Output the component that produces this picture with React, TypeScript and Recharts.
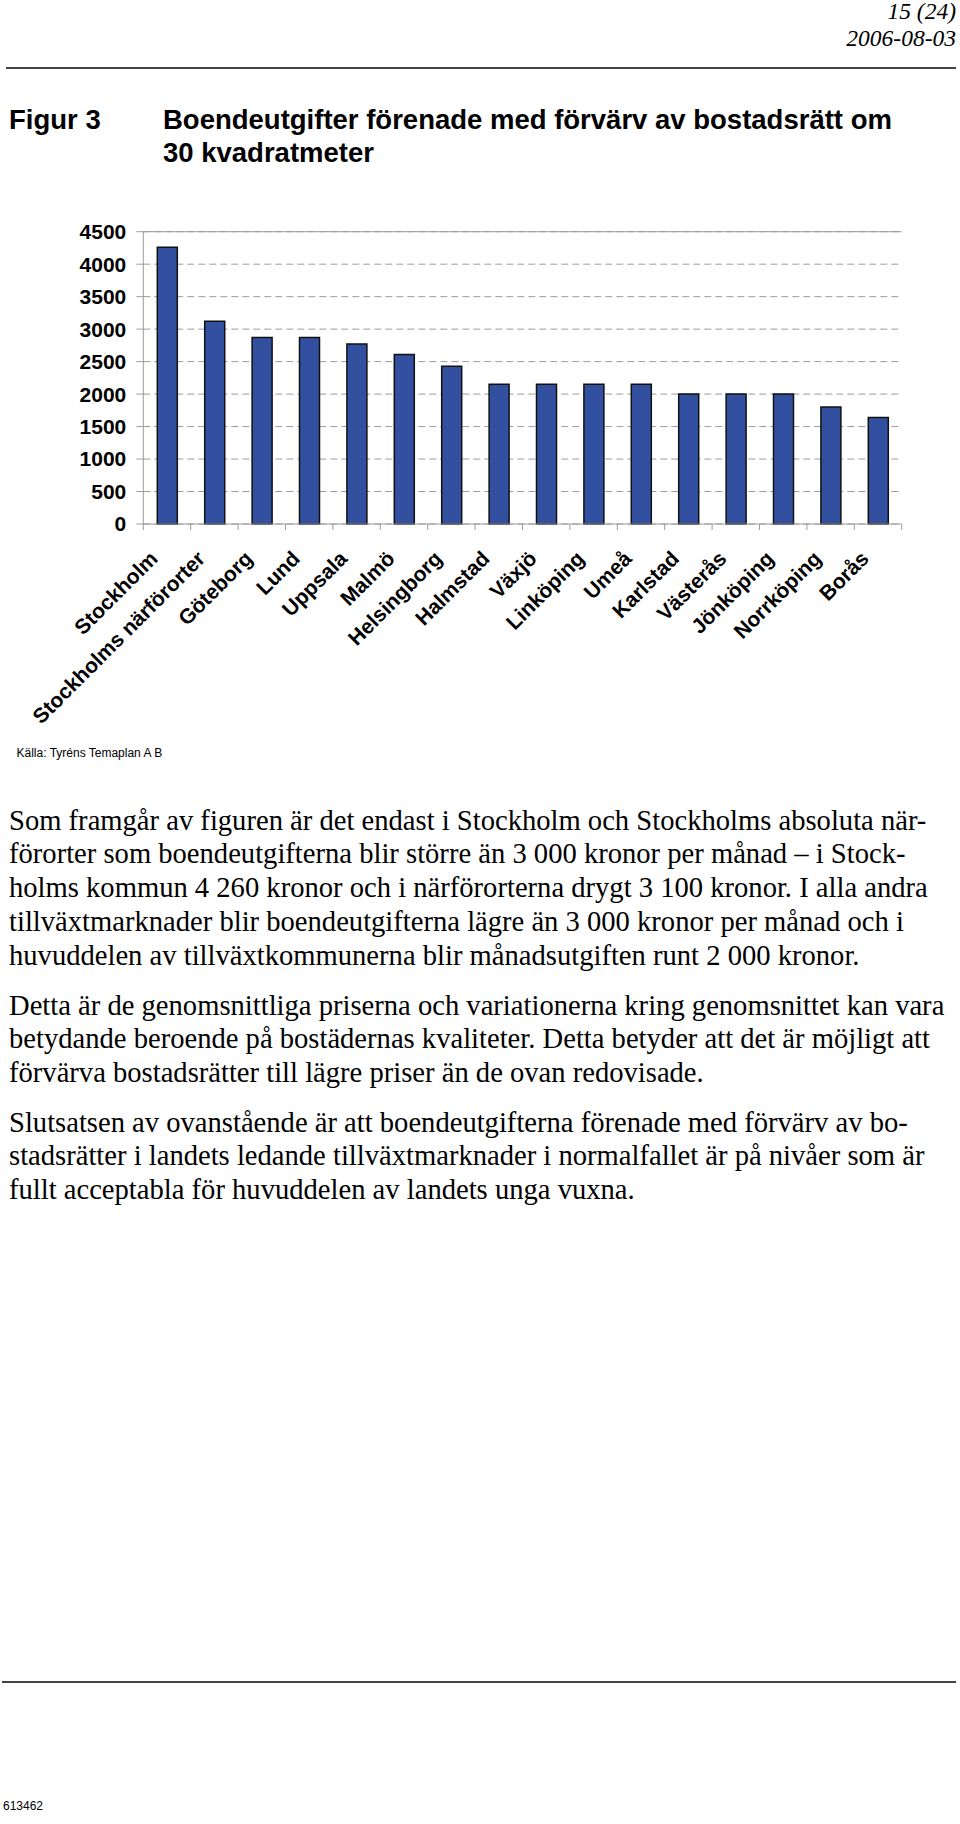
import React from 'react';
import { Bar, BarChart, CartesianGrid, ReferenceLine, XAxis, YAxis } from 'recharts';

const cities = [
  'Stockholm',
  'Stockholms närförorter',
  'Göteborg',
  'Lund',
  'Uppsala',
  'Malmö',
  'Helsingborg',
  'Halmstad',
  'Växjö',
  'Linköping',
  'Umeå',
  'Karlstad',
  'Västerås',
  'Jönköping',
  'Norrköping',
  'Borås',
];

// monthly cost, kronor
const costs = [4260, 3120, 2870, 2870, 2770, 2610, 2430, 2150, 2150, 2150, 2150, 2000, 2000, 2000, 1800, 1640];

const yTicks = [0, 500, 1000, 1500, 2000, 2500, 3000, 3500, 4000, 4500];

const paragraphs = [
  [
    'Som framgår av figuren är det endast i Stockholm och Stockholms absoluta när-',
    'förorter som boendeutgifterna blir större än 3 000 kronor per månad – i Stock-',
    'holms kommun 4 260 kronor och i närförorterna drygt 3 100 kronor. I alla andra',
    'tillväxtmarknader blir boendeutgifterna lägre än 3 000 kronor per månad och i',
    'huvuddelen av tillväxtkommunerna blir månadsutgiften runt 2 000 kronor.',
  ],
  [
    'Detta är de genomsnittliga priserna och variationerna kring genomsnittet kan vara',
    'betydande beroende på bostädernas kvaliteter. Detta betyder att det är möjligt att',
    'förvärva bostadsrätter till lägre priser än de ovan redovisade.',
  ],
  [
    'Slutsatsen av ovanstående är att boendeutgifterna förenade med förvärv av bo-',
    'stadsrätter i landets ledande tillväxtmarknader i normalfallet är på nivåer som är',
    'fullt acceptabla för huvuddelen av landets unga vuxna.',
  ],
];
const paragraphTops = [803.5, 988.5, 1105.5];

const chartData = cities.map((city, i) => ({ city, cost: costs[i] }));

const SANS = '"Liberation Sans", Arial, sans-serif';
const SERIF = '"Liberation Serif", "Times New Roman", serif';
const AXIS_GRAY = '#9c9c9c';

const CHART_W = 960;
const CHART_H = 600;
const MARGIN = { top: 51.7, right: 58.3, left: 0, bottom: 0 };
const Y_AXIS_W = 143.3;
const BAND = (CHART_W - MARGIN.right - Y_AXIS_W) / cities.length;

function CityTick(props: any) {
  const { x, y, payload, index } = props;
  const tx = x - 8;
  const ty = y + 36;
  return (
    <g>
      <line x1={x - BAND / 2} x2={x - BAND / 2} y1={y} y2={y + 6} stroke={AXIS_GRAY} />
      {index === cities.length - 1 && (
        <line x1={x + BAND / 2} x2={x + BAND / 2} y1={y} y2={y + 6} stroke={AXIS_GRAY} />
      )}
      <text
        x={tx}
        y={ty}
        transform={`rotate(-45, ${tx}, ${ty})`}
        textAnchor="end"
        fontFamily={SANS}
        fontWeight="bold"
        fontSize={21}
        fill="#000"
      >
        {payload.value}
      </text>
    </g>
  );
}

export default function App() {
  return (
    <div style={{ position: 'absolute', left: 0, top: 0, width: 960, height: 1824, background: '#fff' }}>
      {/* page header */}
      <div
        style={{
          position: 'absolute',
          right: 4,
          top: -2,
          fontFamily: SERIF,
          fontStyle: 'italic',
          fontSize: 23.5,
          lineHeight: '27px',
          textAlign: 'right',
        }}
      >
        <div>15 (24)</div>
        <div>2006-08-03</div>
      </div>
      <div style={{ position: 'absolute', left: 6, top: 66.5, width: 950, height: 2, background: '#444' }} />

      {/* figure title */}
      <div style={{ position: 'absolute', left: 9, top: 103, fontFamily: SANS, fontWeight: 'bold', fontSize: 27.5, lineHeight: '33px' }}>
        Figur 3
      </div>
      <div style={{ position: 'absolute', left: 163, top: 103, fontFamily: SANS, fontWeight: 'bold', fontSize: 27.5, lineHeight: '33px' }}>
        <div>Boendeutgifter förenade med förvärv av bostadsrätt om</div>
        <div>30 kvadratmeter</div>
      </div>

      <div style={{ position: 'absolute', left: 0, top: 180 }}>
        <BarChart width={CHART_W} height={CHART_H} data={chartData} margin={MARGIN} barSize={20}>
          <CartesianGrid vertical={false} stroke={AXIS_GRAY} strokeDasharray="7 4" />
          <XAxis
            dataKey="city"
            interval={0}
            height={256}
            tickSize={0}
            tickMargin={0}
            tickLine={false}
            axisLine={{ stroke: AXIS_GRAY }}
            tick={<CityTick />}
          />
          <YAxis
            domain={[0, 4500]}
            ticks={yTicks}
            width={Y_AXIS_W}
            tickSize={7}
            tickMargin={10}
            tickLine={{ stroke: AXIS_GRAY }}
            axisLine={{ stroke: AXIS_GRAY }}
            tick={{ fontFamily: SANS, fontWeight: 'bold', fontSize: 21, fill: '#000' }}
          />
          <YAxis
            yAxisId="frame"
            orientation="right"
            domain={[0, 4500]}
            width={0}
            tick={false}
            tickLine={false}
            axisLine={{ stroke: AXIS_GRAY }}
          />
          <ReferenceLine y={4500} stroke={AXIS_GRAY} />
          <Bar dataKey="cost" fill="#3350a0" stroke="#111" strokeWidth={1.5} isAnimationActive={false} />
        </BarChart>
      </div>

      <div style={{ position: 'absolute', left: 16.5, top: 744.5, fontFamily: SANS, fontSize: 12, lineHeight: '16px' }}>
        Källa: Tyréns Temaplan A B
      </div>

      {/* body text */}
      {paragraphs.map((lines, p) => (
        <div
          key={p}
          style={{
            position: 'absolute',
            left: 9,
            top: paragraphTops[p],
            fontFamily: SERIF,
            fontSize: 28.6,
            lineHeight: '33.8px',
            whiteSpace: 'pre',
          }}
        >
          {lines.map((line, i) => (
            <div key={i}>{line}</div>
          ))}
        </div>
      ))}

      {/* page footer */}
      <div style={{ position: 'absolute', left: 2, top: 1680.5, width: 954, height: 2, background: '#444' }} />
      <div style={{ position: 'absolute', left: 3, top: 1798, fontFamily: SANS, fontSize: 12, lineHeight: '16px' }}>613462</div>
    </div>
  );
}
